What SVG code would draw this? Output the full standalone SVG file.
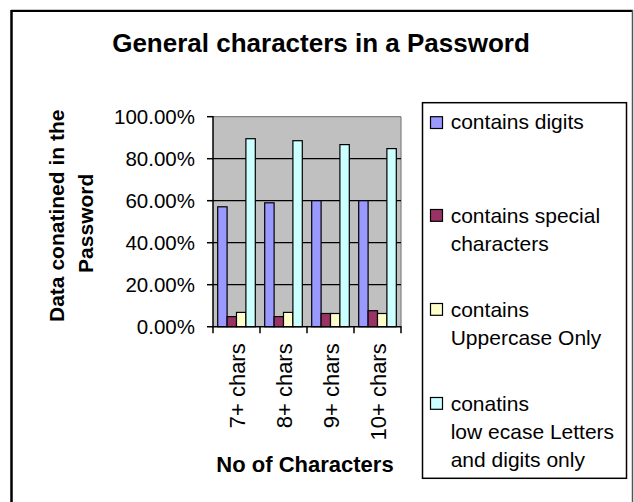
<svg xmlns="http://www.w3.org/2000/svg" width="634" height="502" viewBox="0 0 634 502">
<style>
text{font-family:"Liberation Sans",Arial,sans-serif;fill:#000}
.b{font-weight:bold}
.tick{font-size:20.5px;text-anchor:end}
.cat{font-size:22px;text-anchor:end}
.leg{font-size:21px}
.bar{stroke:#000;stroke-width:1.2}
.grid{stroke:#000;stroke-width:1.2}
.s1{fill:#9999FF}.s2{fill:#993366}.s3{fill:#FFFFCC}.s4{fill:#CCFFFF}
</style>
<rect x="0" y="0" width="634" height="502" fill="#fff"/>
<g id="frame">
<line x1="11" y1="9.5" x2="633" y2="9.5" stroke="#c8c8c8" stroke-width="1"/>
<line x1="11" y1="11" x2="632" y2="11" stroke="#000" stroke-width="2"/>
<line x1="11.5" y1="10" x2="11.5" y2="502" stroke="#000" stroke-width="2.5"/>
<line x1="632.5" y1="10" x2="632.5" y2="502" stroke="#555" stroke-width="1.5"/>
</g>
<text id="title" class="b" x="321" y="51.5" font-size="26" text-anchor="middle">General characters in a Password</text>
<g id="plot">
<rect x="213" y="116.7" width="188" height="210" fill="#C0C0C0"/>
<line x1="213" y1="116.7" x2="401" y2="116.7" stroke="#808080" stroke-width="1.2"/>
<line x1="401" y1="116.7" x2="401" y2="326.7" stroke="#808080" stroke-width="1.2"/>
<line class="grid" x1="213" y1="158.7" x2="401" y2="158.7"/>
<line class="grid" x1="213" y1="200.7" x2="401" y2="200.7"/>
<line class="grid" x1="213" y1="242.7" x2="401" y2="242.7"/>
<line class="grid" x1="213" y1="284.7" x2="401" y2="284.7"/>
</g>
<g id="bars">
<rect class="bar s1" x="217.7" y="206.8" width="9.4" height="119.9"/>
<rect class="bar s2" x="227.1" y="316.6" width="9.4" height="10.1"/>
<rect class="bar s3" x="236.5" y="312.4" width="9.4" height="14.3"/>
<rect class="bar s4" x="245.9" y="138.7" width="9.4" height="188"/>
<rect class="bar s1" x="264.7" y="202.8" width="9.4" height="123.9"/>
<rect class="bar s2" x="274.1" y="316.6" width="9.4" height="10.1"/>
<rect class="bar s3" x="283.5" y="312.4" width="9.4" height="14.3"/>
<rect class="bar s4" x="292.9" y="140.7" width="9.4" height="186"/>
<rect class="bar s1" x="311.7" y="200.7" width="9.4" height="126"/>
<rect class="bar s2" x="321.1" y="313.5" width="9.4" height="13.2"/>
<rect class="bar s3" x="330.5" y="313.5" width="9.4" height="13.2"/>
<rect class="bar s4" x="339.9" y="144.6" width="9.4" height="182.1"/>
<rect class="bar s1" x="358.7" y="200.7" width="9.4" height="126"/>
<rect class="bar s2" x="368.1" y="310.7" width="9.4" height="16"/>
<rect class="bar s3" x="377.5" y="313.5" width="9.4" height="13.2"/>
<rect class="bar s4" x="386.9" y="148.6" width="9.4" height="178.1"/>
</g>
<g id="axes" stroke="#000" stroke-width="1.5">
<line x1="213" y1="116" x2="213" y2="327.5"/>
<line x1="207" y1="326.7" x2="401.5" y2="326.7"/>
<line x1="207" y1="116.7" x2="213" y2="116.7"/>
<line x1="207" y1="158.7" x2="213" y2="158.7"/>
<line x1="207" y1="200.7" x2="213" y2="200.7"/>
<line x1="207" y1="242.7" x2="213" y2="242.7"/>
<line x1="207" y1="284.7" x2="213" y2="284.7"/>
<line x1="213" y1="326.7" x2="213" y2="333.3"/>
<line x1="260" y1="326.7" x2="260" y2="333.3"/>
<line x1="307" y1="326.7" x2="307" y2="333.3"/>
<line x1="354" y1="326.7" x2="354" y2="333.3"/>
<line x1="401" y1="326.7" x2="401" y2="333.3"/>
</g>
<g id="ytick-labels">
<text class="tick" x="195" y="124.2">100.00%</text>
<text class="tick" x="195" y="166.2">80.00%</text>
<text class="tick" x="195" y="208.2">60.00%</text>
<text class="tick" x="195" y="250.2">40.00%</text>
<text class="tick" x="195" y="292.2">20.00%</text>
<text class="tick" x="195" y="334.2">0.00%</text>
</g>
<g id="xtick-labels">
<text class="cat" transform="translate(244.5,343.3) rotate(-90)">7+ chars</text>
<text class="cat" transform="translate(291.5,343.3) rotate(-90)">8+ chars</text>
<text class="cat" transform="translate(338.5,343.3) rotate(-90)">9+ chars</text>
<text class="cat" transform="translate(385.5,343.3) rotate(-90)">10+ chars</text>
</g>
<g id="y-title" class="b" font-size="21" text-anchor="middle">
<text transform="translate(63.5,215.8) rotate(-90)">Data conatined in the</text>
<text transform="translate(92.8,223.3) rotate(-90)">Password</text>
</g>
<text id="x-title" class="b" x="305" y="471.7" font-size="22" text-anchor="middle">No of Characters</text>
<g id="legend">
<rect x="422.5" y="102.7" width="204" height="375.6" fill="#fff" stroke="#000" stroke-width="1.5"/>
<g id="leg1"><rect class="bar s1" x="430.5" y="116.7" width="12" height="11.8"/><text class="leg" x="450.7" y="129.3">contains digits</text></g>
<g id="leg2"><rect class="bar s2" x="430.5" y="209.5" width="12" height="11.8"/><text class="leg" x="450.7" y="223.3">contains special</text><text class="leg" x="450.7" y="251">characters</text></g>
<g id="leg3"><rect class="bar s3" x="430.5" y="303.5" width="12" height="11.8"/><text class="leg" x="450.7" y="317.3">contains</text><text class="leg" x="450.7" y="345">Uppercase Only</text></g>
<g id="leg4"><rect class="bar s4" x="430.5" y="397.5" width="12" height="11.8"/><text class="leg" x="450.7" y="411">conatins</text><text class="leg" x="450.7" y="438.7">low ecase Letters</text><text class="leg" x="450.7" y="466.7">and digits only</text></g>
</g>
</svg>
